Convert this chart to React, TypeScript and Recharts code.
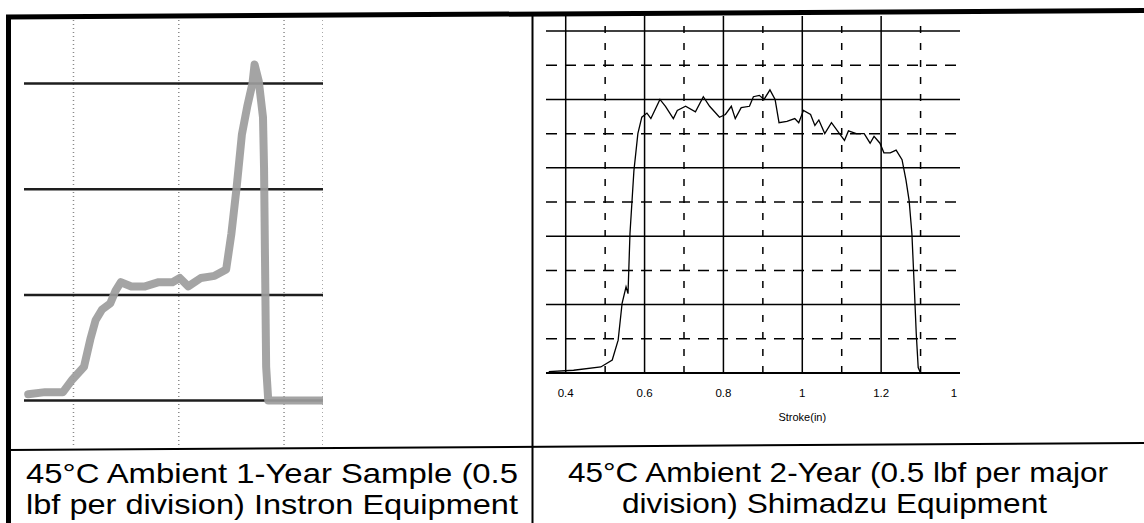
import React from "react"
import { Line, LineChart, ReferenceLine, XAxis, YAxis } from "recharts"

// left panel: Instron strip chart (x in chart divisions, y in lbf)
const instronPos = [0.57, 0.73, 0.9, 0.99, 1.1, 1.16, 1.21, 1.27, 1.35, 1.4, 1.45, 1.55, 1.68, 1.81, 1.94, 2.01, 2.09, 2.21, 2.34, 2.45, 2.5, 2.55, 2.6, 2.65, 2.7, 2.72, 2.76, 2.8, 2.81, 2.82, 2.83, 2.85, 3.07, 3.37]
const instronLoad = [0.03, 0.04, 0.04, 0.1, 0.16, 0.29, 0.38, 0.43, 0.46, 0.52, 0.56, 0.54, 0.54, 0.56, 0.56, 0.58, 0.54, 0.58, 0.59, 0.62, 0.79, 1.01, 1.26, 1.39, 1.5, 1.59, 1.51, 1.34, 1.1, 0.63, 0.16, 0, 0, 0]
const instronDomainX = [0.53, 3.37]
const instronDomainY = [-0.21, 1.8]
const instronDivX = [1, 2, 3, 3.37]
const instronDivY = [0, 0.5, 1, 1.5]

// right panel: Shimadzu load vs stroke
const stroke = [0.357, 0.42, 0.489, 0.518, 0.533, 0.543, 0.553, 0.558, 0.563, 0.573, 0.583, 0.593, 0.606, 0.616, 0.639, 0.653, 0.673, 0.683, 0.704, 0.729, 0.749, 0.765, 0.79, 0.805, 0.82, 0.83, 0.845, 0.866, 0.876, 0.891, 0.903, 0.918, 0.931, 0.941, 0.961, 0.981, 0.991, 1.003, 1.021, 1.032, 1.042, 1.057, 1.074, 1.092, 1.107, 1.117, 1.137, 1.157, 1.172, 1.182, 1.197, 1.207, 1.223, 1.238, 1.253, 1.263, 1.271, 1.278, 1.284, 1.289, 1.294, 1.3, 1.4]
const load = [0.01, 0.02, 0.044, 0.095, 0.24, 0.51, 0.63, 0.58, 1.02, 1.48, 1.75, 1.87, 1.9, 1.86, 2.0, 1.95, 1.86, 1.92, 1.95, 1.91, 2.02, 1.95, 1.87, 1.89, 1.95, 1.86, 1.94, 1.95, 2.02, 2.03, 2.0, 2.07, 2.0, 1.83, 1.84, 1.86, 1.83, 1.92, 1.89, 1.81, 1.85, 1.75, 1.83, 1.76, 1.7, 1.77, 1.75, 1.75, 1.68, 1.73, 1.68, 1.61, 1.61, 1.63, 1.56, 1.41, 1.26, 1.02, 0.63, 0.29, 0.04, 0, 0]
const strokeDomain = [0.35, 1.4]
const loadDomain = [0, 2.61]
const strokeTicks = [0.4, 0.6, 0.8, 1, 1.2, 1.4]
const strokeTickLabels = ["0.4", "0.6", "0.8", "1", "1.2", "1"]
const strokeMajor = [0.4, 0.6, 0.8, 1, 1.2]
const strokeMinor = [0.5, 0.7, 0.9, 1.1, 1.3]
const loadMajor = [0.5, 1, 1.5, 2, 2.5]
const loadMinor = [0.25, 0.75, 1.25, 1.75, 2.25]
const strokeLabelAt = 1

const leftCaption = ["45°C Ambient 1-Year Sample (0.5", "lbf per division) Instron Equipment"]
const rightCaption = ["45°C Ambient 2-Year (0.5 lbf per major", "division) Shimadzu Equipment"]

const instronData = instronPos.map((x, i) => ({ x, load: instronLoad[i] }))
const shimadzuData = stroke.map((s, i) => ({ stroke: s, load: load[i] }))

const font = "Arial, 'Liberation Sans', sans-serif"

function StrokeTick(props: any) {
  const { x, y, payload, index } = props
  const last = index === strokeTicks.length - 1
  return (
    <text x={x + (last ? -6 : 0)} y={y + 16} textAnchor="middle" fontSize={11.5} fontFamily={font} fill="#000">
      {strokeTickLabels[index] ?? payload.value}
    </text>
  )
}

function StrokeLabel(props: any) {
  const vb = props.viewBox || { x: 0, y: 357, width: 414, height: 60 }
  const f = (strokeLabelAt - strokeDomain[0]) / (strokeDomain[1] - strokeDomain[0])
  return (
    <text x={vb.x + vb.width * f} y={vb.y + 48} textAnchor="middle" fontSize={11} fontFamily={font} fill="#000">
      Stroke(in)
    </text>
  )
}

function InstronChart() {
  return (
    <LineChart width={299} height={425} data={instronData} margin={{ top: 0, right: 0, bottom: 0, left: 0 }}>
      <XAxis dataKey="x" type="number" domain={instronDomainX} hide allowDataOverflow />
      <YAxis type="number" domain={instronDomainY} hide allowDataOverflow />
      {instronDivX.map((v) => (
        <ReferenceLine key={"vx" + v} x={v} stroke="#8a8a8a" strokeWidth={1.5} strokeDasharray="1 3" />
      ))}
      {instronDivY.map((v) => (
        <ReferenceLine key={"hy" + v} y={v} stroke="#1e1e1e" strokeWidth={2.5} />
      ))}
      <Line
        dataKey="load"
        stroke="#9c9c9c"
        strokeWidth={8}
        strokeLinejoin="round"
        strokeLinecap="round"
        strokeOpacity={0.92}
        dot={false}
        isAnimationActive={false}
      />
    </LineChart>
  )
}

function ShimadzuChart() {
  return (
    <LineChart width={424} height={417} data={shimadzuData} margin={{ top: 0, right: 10, bottom: 0, left: 0 }}>
      <XAxis
        dataKey="stroke"
        type="number"
        domain={strokeDomain}
        ticks={strokeTicks}
        interval={0}
        height={60}
        tickLine={false}
        axisLine={{ stroke: "#000", strokeWidth: 2 }}
        tick={<StrokeTick />}
        label={(p: any) => <StrokeLabel {...p} />}
        allowDataOverflow
      />
      <YAxis type="number" domain={loadDomain} hide allowDataOverflow />
      {strokeMinor.map((v) => (
        <ReferenceLine key={"sm" + v} x={v} stroke="#000" strokeWidth={1.5} strokeDasharray="7 10" />
      ))}
      {loadMinor.map((v) => (
        <ReferenceLine key={"lm" + v} y={v} stroke="#000" strokeWidth={1.5} strokeDasharray="11 8" />
      ))}
      {strokeMajor.map((v) => (
        <ReferenceLine key={"sM" + v} x={v} stroke="#000" strokeWidth={1.5} />
      ))}
      {loadMajor.map((v) => (
        <ReferenceLine key={"lM" + v} y={v} stroke="#000" strokeWidth={1.5} />
      ))}
      <Line dataKey="load" stroke="#000" strokeWidth={1.3} dot={false} isAnimationActive={false} />
    </LineChart>
  )
}

export default function App() {
  return (
    <div style={{ position: "absolute", left: 0, top: 0, width: 1144, height: 523, background: "#fff", overflow: "hidden" }}>
      <div style={{ position: "absolute", left: 24, top: 20 }}>
        <InstronChart />
      </div>
      <div style={{ position: "absolute", left: 546, top: 16 }}>
        <ShimadzuChart />
      </div>
      <svg width={1144} height={523} style={{ position: "absolute", left: 0, top: 0, pointerEvents: "none" }}>
        <line x1={6} y1={17} x2={1144} y2={10.5} stroke="#000" strokeWidth={5} />
        <line x1={8.5} y1={15} x2={8.5} y2={523} stroke="#000" strokeWidth={5} />
        <line x1={532.5} y1={14} x2={532.5} y2={523} stroke="#000" strokeWidth={2} />
        <line x1={8} y1={450} x2={1144} y2={443} stroke="#000" strokeWidth={2} />
        <g fontFamily={font} fontSize={28.5} fill="#000">
          <text x={26} y={483} textLength={492} lengthAdjust="spacingAndGlyphs">{leftCaption[0]}</text>
          <text x={26} y={514} textLength={492} lengthAdjust="spacingAndGlyphs">{leftCaption[1]}</text>
          <text x={568} y={482} textLength={540} lengthAdjust="spacingAndGlyphs">{rightCaption[0]}</text>
          <text x={622} y={513} textLength={425} lengthAdjust="spacingAndGlyphs">{rightCaption[1]}</text>
        </g>
      </svg>
    </div>
  )
}
